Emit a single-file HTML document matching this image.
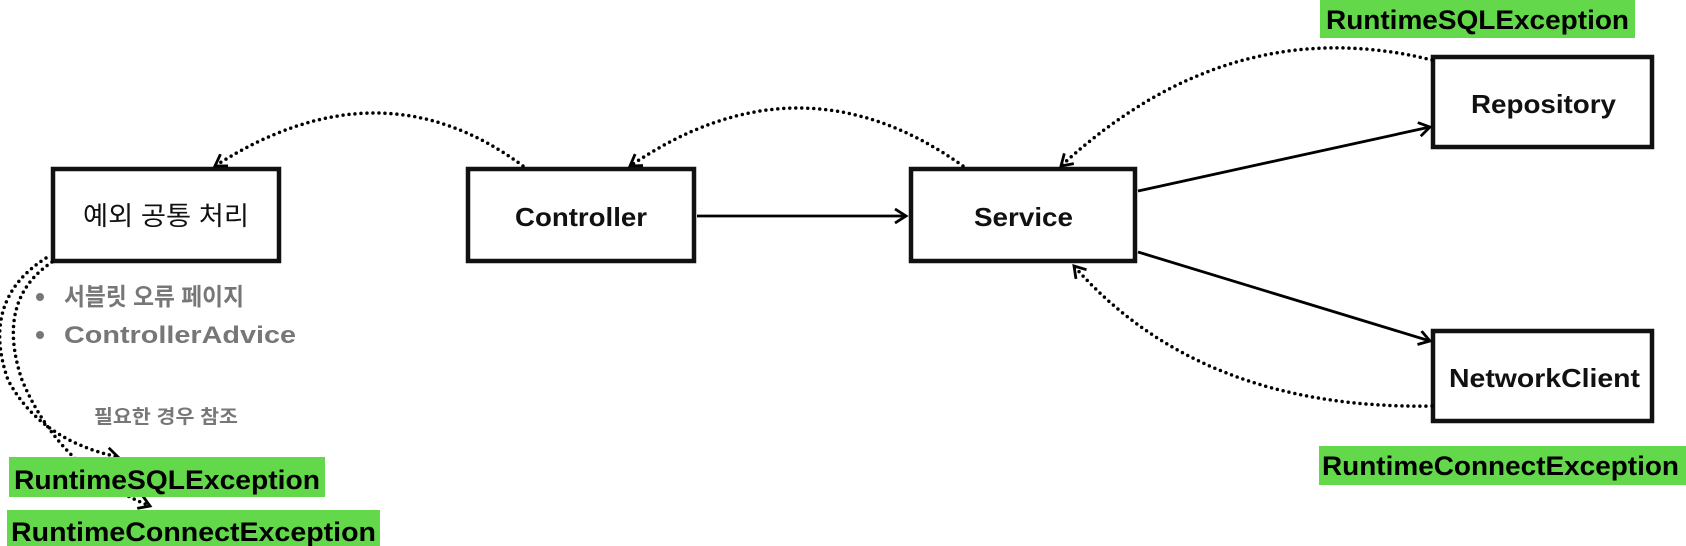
<!DOCTYPE html>
<html><head><meta charset="utf-8"><style>
html,body{margin:0;padding:0;background:#fff;width:1686px;height:546px;overflow:hidden}
svg{display:block}
text{font-family:"Liberation Sans","Noto Sans CJK KR",sans-serif}
</style></head><body>
<svg width="1686" height="546" viewBox="0 0 1686 546" xmlns="http://www.w3.org/2000/svg">
<defs>
<marker id="a" markerWidth="16" markerHeight="16" refX="12" refY="8" orient="auto" markerUnits="userSpaceOnUse">
<path d="M1,1 L12,8 L1,15" fill="none" stroke="#000" stroke-width="2.8"/>
</marker>
</defs>
<g fill="#fff" stroke="#111" stroke-width="4.5">
<rect x="53" y="169" width="226" height="92"/>
<rect x="468" y="169" width="226" height="92"/>
<rect x="911" y="169" width="224" height="92"/>
<rect x="1433" y="57" width="219" height="90"/>
<rect x="1433" y="331" width="219" height="90"/>
</g>
<g font-size="26" fill="#111" font-weight="bold">
<text x="83" y="225" textLength="166" font-weight="normal" lengthAdjust="spacingAndGlyphs">예외 공통 처리</text>
<text x="515" y="226" textLength="132" lengthAdjust="spacingAndGlyphs">Controller</text>
<text x="974" y="226" textLength="99" lengthAdjust="spacingAndGlyphs">Service</text>
<text x="1471" y="113" textLength="145" lengthAdjust="spacingAndGlyphs">Repository</text>
<text x="1449" y="387" textLength="191" lengthAdjust="spacingAndGlyphs">NetworkClient</text>
</g>
<g stroke="#000" stroke-width="2.8" fill="none" marker-end="url(#a)">
<line x1="697" y1="216" x2="906" y2="216"/>
<line x1="1138" y1="191" x2="1430" y2="127"/>
<line x1="1138" y1="252" x2="1430" y2="341"/>
</g>
<g stroke="#000" stroke-width="3.5" fill="none" stroke-dasharray="0 6" stroke-linecap="round" marker-end="url(#a)">
<path d="M523,166 Q380,60 215,166"/>
<path d="M963,166 Q800,50 630,166"/>
<path d="M1432,60 Q1230,10 1061,166"/>
<path d="M1432,406 Q1200,410 1074,266"/>
<path d="M46,258 Q-20,300 8,380 Q40,440 118,457"/>
<path d="M52,262 Q-5,300 22,380 Q60,470 150,506"/>
</g>
<g font-size="24" font-weight="bold" fill="#777">
<circle cx="40" cy="297" r="4" fill="#777"/>
<circle cx="40" cy="335" r="4" fill="#777"/>
<text x="64" y="305" textLength="180" lengthAdjust="spacingAndGlyphs">서블릿 오류 페이지</text>
<text x="64" y="343" textLength="232" lengthAdjust="spacingAndGlyphs">ControllerAdvice</text>
</g>
<text x="94" y="423" font-size="19" font-weight="bold" fill="#777" textLength="144" lengthAdjust="spacingAndGlyphs">필요한 경우 참조</text>
<g fill="#62d84a">
<rect x="1320" y="0" width="315" height="38"/>
<rect x="1319" y="446" width="367" height="39"/>
<rect x="9" y="457" width="316" height="40"/>
<rect x="7" y="510" width="373" height="36"/>
</g>
<g font-size="27" font-weight="bold" fill="#000">
<text x="1326" y="29" textLength="303" lengthAdjust="spacingAndGlyphs">RuntimeSQLException</text>
<text x="1322" y="475" textLength="357" lengthAdjust="spacingAndGlyphs">RuntimeConnectException</text>
<text x="14" y="489" textLength="306" lengthAdjust="spacingAndGlyphs">RuntimeSQLException</text>
<text x="11" y="541" textLength="365" lengthAdjust="spacingAndGlyphs">RuntimeConnectException</text>
</g>
</svg>
</body></html>
